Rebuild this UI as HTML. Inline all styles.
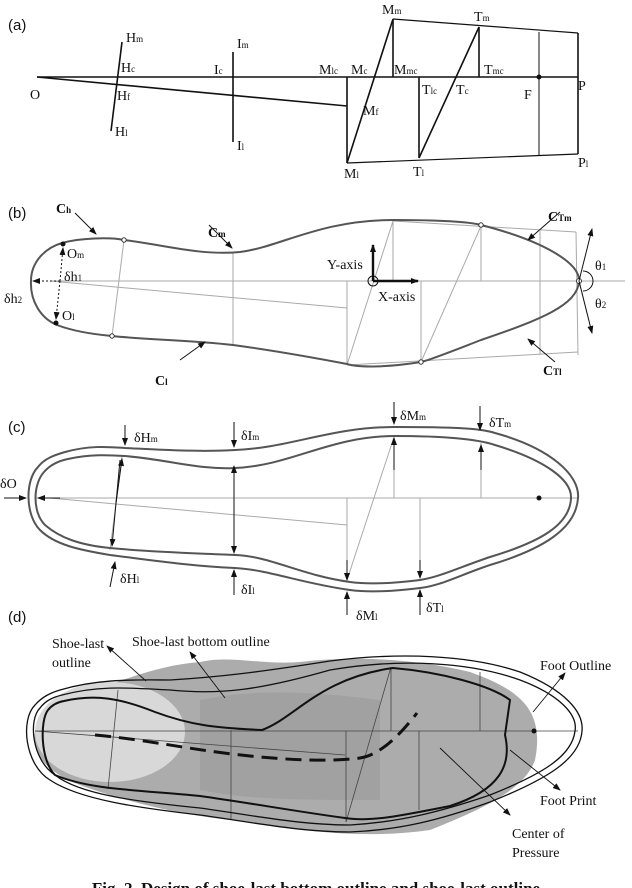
<!DOCTYPE html>
<html><head><meta charset="utf-8"><style>
body{margin:0;background:#fff}
svg{display:block}
.s{font-family:"Liberation Serif",serif;font-size:14px;fill:#111}
.p{font-family:"Liberation Sans",sans-serif;font-size:15px;fill:#111}
</style></head><body>
<svg width="632" height="888" viewBox="0 0 632 888" xmlns="http://www.w3.org/2000/svg">
<defs>
<marker id="a" markerWidth="8" markerHeight="8" refX="7" refY="4" orient="auto" markerUnits="userSpaceOnUse"><path d="M0,1 L8,4 L0,7 z" fill="#111"/></marker>
</defs>
<!-- (a) -->
<text class="p" x="8" y="30">(a)</text>
<g stroke="#111" stroke-width="1.6" fill="none">
<line x1="37" y1="77" x2="578" y2="77"/>
<line x1="37" y1="77" x2="347" y2="106"/>
<line x1="122" y1="42" x2="111" y2="131"/>
<line x1="233" y1="52" x2="233" y2="142"/>
<line x1="347" y1="77" x2="347" y2="163"/>
<line x1="347" y1="163" x2="393" y2="19"/>
<line x1="393" y1="19" x2="393" y2="77"/>
<line x1="419" y1="77" x2="419" y2="158"/>
<line x1="419" y1="158" x2="479" y2="27"/>
<line x1="479" y1="27" x2="479" y2="77"/>
<line x1="539" y1="32" x2="539" y2="155" stroke-width="1"/>
<line x1="578" y1="33" x2="578" y2="154"/>
<line x1="393" y1="19" x2="578" y2="33" stroke-width="1.2"/>
<line x1="347" y1="163" x2="578" y2="154" stroke-width="1.2"/>
</g>
<circle cx="539" cy="77" r="2.5" fill="#111"/>
<g class="s">
<text x="30" y="99">O</text>
<text x="126" y="42">H<tspan font-size="9">m</tspan></text>
<text x="121" y="72">H<tspan font-size="9">c</tspan></text>
<text x="117" y="100">H<tspan font-size="9">f</tspan></text>
<text x="115" y="136">H<tspan font-size="9">l</tspan></text>
<text x="237" y="48">I<tspan font-size="9">m</tspan></text>
<text x="214" y="74">I<tspan font-size="9">c</tspan></text>
<text x="237" y="150">I<tspan font-size="9">l</tspan></text>
<text x="319" y="74">M<tspan font-size="9">lc</tspan></text>
<text x="351" y="74">M<tspan font-size="9">c</tspan></text>
<text x="394" y="74">M<tspan font-size="9">mc</tspan></text>
<text x="382" y="14">M<tspan font-size="9">m</tspan></text>
<text x="363" y="115">M<tspan font-size="9">f</tspan></text>
<text x="344" y="178">M<tspan font-size="9">l</tspan></text>
<text x="422" y="94">T<tspan font-size="9">lc</tspan></text>
<text x="456" y="94">T<tspan font-size="9">c</tspan></text>
<text x="474" y="21">T<tspan font-size="9">m</tspan></text>
<text x="484" y="74">T<tspan font-size="9">mc</tspan></text>
<text x="413" y="176">T<tspan font-size="9">l</tspan></text>
<text x="524" y="99">F</text>
<text x="578" y="90">P</text>
<text x="578" y="167">P<tspan font-size="9">l</tspan></text>
</g>

<!-- (b) -->
<text class="p" x="8" y="218">(b)</text>
<g stroke="#aaa" stroke-width="1" fill="none">
<line x1="50" y1="281" x2="625" y2="281"/>
<line x1="50" y1="281" x2="347" y2="308"/>
<line x1="124" y1="240" x2="112" y2="336"/>
<line x1="233" y1="253" x2="233" y2="344"/>
<line x1="347" y1="281" x2="347" y2="365"/>
<line x1="347" y1="365" x2="393" y2="221"/>
<line x1="393" y1="221" x2="393" y2="281"/>
<line x1="421" y1="281" x2="421" y2="362"/>
<line x1="421" y1="362" x2="481" y2="226"/>
<line x1="481" y1="226" x2="481" y2="281"/>
<line x1="540" y1="231" x2="540" y2="355"/>
<line x1="576" y1="232" x2="578" y2="355"/>
<line x1="393" y1="221" x2="576" y2="232"/>
<line x1="347" y1="365" x2="578" y2="352"/>
</g>
<path d="M62,243 C80,238 110,237 124,240 C160,244 200,256 240,252 C280,247 320,220 393,220 C440,220 470,222 481,225 C540,240 580,262 579,281 C578,305 540,320 481,340 C450,352 430,360 421,362 C390,367 360,368 347,364 C300,355 270,350 233,345 C190,340 150,340 112,336 C90,334 70,330 57,325 C40,318 30,300 31,281 C31,262 45,248 62,243 Z" fill="none" stroke="#555" stroke-width="2"/>
<g fill="#fff" stroke="#333" stroke-width="1"><circle cx="124" cy="240" r="2.2"/><circle cx="112" cy="336" r="2.2"/><circle cx="481" cy="225" r="2.2"/><circle cx="421" cy="362" r="2.2"/><circle cx="579" cy="281" r="2.5"/></g>
<circle cx="373" cy="281" r="5" fill="none" stroke="#111" stroke-width="1"/>
<g stroke="#111" stroke-width="2.4"><line x1="373" y1="281" x2="373" y2="245" marker-end="url(#a)"/><line x1="373" y1="281" x2="418" y2="281" marker-end="url(#a)"/></g>
<circle cx="63" cy="244" r="2.5" fill="#111"/><circle cx="56" cy="323" r="2.5" fill="#111"/>
<g stroke="#111" stroke-width="1" fill="none" stroke-dasharray="2,2">
<line x1="60" y1="281" x2="63" y2="248" marker-end="url(#a)"/><line x1="60" y1="281" x2="56" y2="319" marker-end="url(#a)"/><line x1="60" y1="281" x2="33" y2="281" marker-end="url(#a)"/></g>
<g stroke="#111" stroke-width="1" fill="none">
<line x1="75" y1="213" x2="96" y2="234" marker-end="url(#a)"/>
<line x1="209" y1="225" x2="232" y2="248" marker-end="url(#a)"/>
<line x1="180" y1="360" x2="205" y2="342" marker-end="url(#a)"/>
<line x1="560" y1="212" x2="528" y2="240" marker-end="url(#a)"/>
<line x1="555" y1="362" x2="528" y2="339" marker-end="url(#a)"/>
<line x1="579" y1="281" x2="592" y2="229" marker-end="url(#a)"/>
<line x1="579" y1="281" x2="592" y2="333" marker-end="url(#a)"/>
<path d="M583,271 A10,10 0 0 1 583,291"/>
</g>
<g class="s">
<text x="56" y="213" font-weight="bold">C<tspan font-size="9">h</tspan></text>
<text x="67" y="258">O<tspan font-size="9">m</tspan></text>
<text x="64" y="281">δh<tspan font-size="9">1</tspan></text>
<text x="4" y="303">δh<tspan font-size="9">2</tspan></text>
<text x="62" y="320">O<tspan font-size="9">l</tspan></text>
<text x="208" y="237" font-weight="bold">C<tspan font-size="9">m</tspan></text>
<text x="155" y="385" font-weight="bold">C<tspan font-size="9">l</tspan></text>
<text x="327" y="269">Y-axis</text>
<text x="378" y="301">X-axis</text>
<text x="548" y="221" font-weight="bold">C<tspan font-size="9">Tm</tspan></text>
<text x="543" y="375" font-weight="bold">C<tspan font-size="9">Tl</tspan></text>
<text x="595" y="270">θ<tspan font-size="9">1</tspan></text>
<text x="595" y="308">θ<tspan font-size="9">2</tspan></text>
</g>

<!-- (c) -->
<text class="p" x="8" y="432">(c)</text>
<g stroke="#aaa" stroke-width="1" fill="none">
<line x1="36" y1="498" x2="578" y2="498"/>
<line x1="50" y1="498" x2="347" y2="525"/>
<line x1="122" y1="456" x2="110" y2="550"/>
<line x1="347" y1="498" x2="347" y2="580"/>
<line x1="347" y1="580" x2="394" y2="437"/>
<line x1="394" y1="437" x2="394" y2="498"/>
<line x1="420" y1="498" x2="420" y2="576"/>
<line x1="481" y1="443" x2="481" y2="498"/>
</g>
<path d="M65,452 C90,445 110,447 125,448 C170,450 200,452 235,450 C290,448 330,427 395,427 C450,427 480,428 495,433 C550,448 580,475 578,498 C576,530 540,550 490,565 C460,575 440,586 420,588 C390,592 365,592 350,590 C300,583 270,570 235,568 C190,566 150,560 110,555 C80,550 55,545 40,530 C25,515 25,480 38,467 C45,458 55,455 65,452 Z" fill="none" stroke="#555" stroke-width="2"/>
<path d="M68,459 C90,454 110,455 125,456 C170,460 200,470 235,468 C290,466 330,436 395,436 C450,436 480,440 495,445 C545,460 572,480 571,498 C570,525 540,542 490,557 C460,567 440,577 420,580 C390,584 365,584 350,582 C300,575 270,556 235,555 C190,553 150,552 110,548 C80,545 60,538 45,525 C32,512 33,484 44,472 C50,465 58,461 68,459 Z" fill="none" stroke="#555" stroke-width="2"/>
<g stroke="#111" stroke-width="1" fill="none">
<line x1="125" y1="425" x2="125" y2="445" marker-end="url(#a)"/>
<line x1="234" y1="422" x2="234" y2="447" marker-end="url(#a)"/>
<line x1="394" y1="402" x2="394" y2="424" marker-end="url(#a)"/>
<line x1="480" y1="406" x2="480" y2="430" marker-end="url(#a)"/>
<line x1="4" y1="498" x2="26" y2="498" marker-end="url(#a)"/>
<line x1="60" y1="498" x2="38" y2="498" marker-end="url(#a)"/>
<line x1="110" y1="587" x2="115" y2="562" marker-end="url(#a)"/>
<line x1="234" y1="595" x2="234" y2="570" marker-end="url(#a)"/>
<line x1="347" y1="615" x2="347" y2="592" marker-end="url(#a)"/>
<line x1="420" y1="615" x2="420" y2="590" marker-end="url(#a)"/>
<line x1="120" y1="460" x2="112" y2="546" marker-end="url(#a)"/><line x1="116" y1="503" x2="122" y2="459" marker-end="url(#a)"/>
<line x1="234" y1="510" x2="234" y2="466" marker-end="url(#a)"/><line x1="234" y1="510" x2="234" y2="553" marker-end="url(#a)"/>
<line x1="394" y1="470" x2="394" y2="438" marker-end="url(#a)"/>
<line x1="481" y1="470" x2="481" y2="445" marker-end="url(#a)"/>
<line x1="347" y1="560" x2="347" y2="580" marker-end="url(#a)"/>
<line x1="420" y1="560" x2="420" y2="578" marker-end="url(#a)"/>
</g>
<circle cx="539" cy="498" r="2.5" fill="#111"/>
<g class="s">
<text x="134" y="442">δH<tspan font-size="9">m</tspan></text>
<text x="241" y="440">δI<tspan font-size="9">m</tspan></text>
<text x="400" y="420">δM<tspan font-size="9">m</tspan></text>
<text x="489" y="427">δT<tspan font-size="9">m</tspan></text>
<text x="0" y="488">δO</text>
<text x="120" y="583">δH<tspan font-size="9">l</tspan></text>
<text x="241" y="594">δI<tspan font-size="9">l</tspan></text>
<text x="356" y="620">δM<tspan font-size="9">l</tspan></text>
<text x="426" y="612">δT<tspan font-size="9">l</tspan></text>
</g>

<!-- (d) -->
<text class="p" x="8" y="622">(d)</text>
<path d="M70,700 C120,680 160,665 200,662 C230,655 260,665 300,662 C360,655 420,660 470,672 C520,690 545,710 535,760 C525,790 480,810 430,830 C360,840 300,830 230,820 C180,815 120,800 80,785 C40,770 25,745 40,720 C50,710 60,705 70,700 Z" fill="#acacac"/>
<ellipse cx="110" cy="732" rx="75" ry="50" fill="#d8d8d8"/>
<path d="M200,700 C250,690 300,690 380,700 L380,800 C300,800 250,800 200,790 Z" fill="#8c8c8c" opacity="0.35"/>
<g stroke="#444" stroke-width="0.8" fill="none">
<line x1="35" y1="731" x2="578" y2="731"/>
<line x1="35" y1="731" x2="345" y2="755"/>
<line x1="118" y1="690" x2="108" y2="789"/>
<line x1="231" y1="730" x2="231" y2="820"/>
<line x1="346" y1="731" x2="346" y2="822"/>
<line x1="346" y1="822" x2="391" y2="667"/>
<line x1="391" y1="667" x2="391" y2="731"/>
<line x1="419" y1="731" x2="419" y2="810"/>
<line x1="480" y1="672" x2="480" y2="731"/>
</g>
<path d="M60,690 C100,678 140,680 170,680 C220,677 260,672 330,661 C400,652 470,655 520,672 C565,690 584,712 582,731 C580,760 545,780 490,802 C440,820 400,830 350,832 C300,832 250,822 200,815 C140,808 80,800 50,780 C25,765 20,720 35,705 C42,697 50,693 60,690 Z" fill="none" stroke="#111" stroke-width="1.3"/>
<path d="M62,695 C100,685 130,688 170,690 C220,695 260,690 330,670 C400,658 470,662 520,680 C560,695 578,715 575,731 C572,757 540,775 490,795 C440,812 400,822 350,825 C300,825 250,815 200,808 C140,802 80,795 55,775 C32,760 28,720 40,708 C46,700 54,697 62,695 Z" fill="none" stroke="#111" stroke-width="1.3"/>
<path d="M64,701 C95,694 120,698 155,712 C190,725 215,728 262,730 C295,718 320,678 393,668 C440,672 490,685 510,700 L505,735 C512,765 500,790 450,806 C400,816 370,822 345,818 C300,812 250,803 200,796 C140,790 90,790 55,775 C40,760 40,720 48,710 C52,705 58,702 64,701 Z" fill="none" stroke="#111" stroke-width="2"/>
<path d="M95,735 C150,740 190,750 250,756 C290,760 330,762 360,758 C380,755 400,735 417,713" fill="none" stroke="#111" stroke-width="3" stroke-dasharray="16,8"/>
<circle cx="534" cy="731" r="2.5" fill="#111"/>
<g stroke="#111" stroke-width="0.9" fill="none">
<line x1="146" y1="681" x2="107" y2="646" marker-end="url(#a)"/>
<line x1="225" y1="698" x2="190" y2="652" marker-end="url(#a)"/>
<line x1="533" y1="712" x2="565" y2="673" marker-end="url(#a)"/>
<line x1="510" y1="750" x2="560" y2="790" marker-end="url(#a)"/>
<line x1="440" y1="748" x2="510" y2="815" marker-end="url(#a)"/>
</g>
<g class="s" font-size="13">
<text x="52" y="648">Shoe-last</text>
<text x="52" y="667">outline</text>
<text x="132" y="646">Shoe-last bottom outline</text>
<text x="540" y="670">Foot Outline</text>
<text x="540" y="805">Foot Print</text>
<text x="512" y="838">Center of</text>
<text x="512" y="857">Pressure</text>
</g>
<text x="316" y="894" text-anchor="middle" style="font-family:'Liberation Serif',serif;font-size:17px;font-weight:bold;fill:#111">Fig. 2. Design of shoe-last bottom outline and shoe-last outline</text>
</svg>
</body></html>
